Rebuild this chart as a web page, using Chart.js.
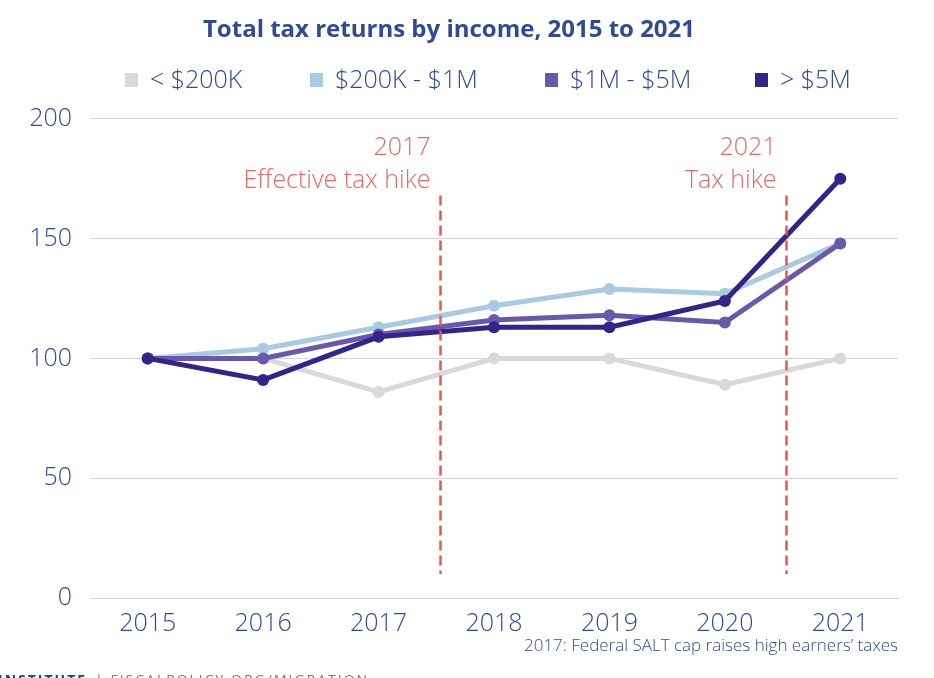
<!DOCTYPE html>
<html>
<head>
<meta charset="utf-8">
<script src="https://cdn.jsdelivr.net/npm/chart.js@4/dist/chart.umd.min.js"></script>
<style>
  html, body { margin: 0; padding: 0; background: #fff; }
  #wrap { width: 934px; height: 678px; position: relative; }
</style>
</head>
<body>
<div id="wrap"><canvas id="chart" width="934" height="678"></canvas></div>
<script>
const years = ['2015', '2016', '2017', '2018', '2019', '2020', '2021'];
const under200k = [100, 100, 86, 100, 100, 89, 100];
const from200kTo1m = [100, 104, 113, 122, 129, 127, 148];
const from1mTo5m = [100, 100, 110, 116, 118, 115, 148];
const over5m = [100, 91, 109, 113, 113, 124, 175];
const seriesNames = ['< $200K', '$200K - $1M', '$1M - $5M', '> $5M'];
const seriesColors = ['#d9d9d9', '#a9cbe2', '#6a58ad', '#33238a'];
const yTicks = [0, 50, 100, 150, 200];

const FONT = '"Open Sans", "Noto Sans", sans-serif';
const BLUE = '#2f4a98';
const RED = '#e85656';

// dashed markers between categories + their labels
const markers = [
  { at: 2.53, top: 168, bottom: 10, lines: ['2017', 'Effective tax hike'] },
  { at: 5.53, top: 168, bottom: 10, lines: ['2021', 'Tax hike'] }
];

// legend box positions (left edge of each swatch)
const legendX = [125, 310, 545, 755];
const legendY = 80;

const legendPlugin = {
  id: 'customLegend',
  afterDraw(chart) {
    const { ctx } = chart;
    ctx.save();
    ctx.font = '300 25px ' + FONT;
    ctx.textBaseline = 'middle';
    ctx.textAlign = 'left';
    seriesNames.forEach((name, i) => {
      ctx.fillStyle = seriesColors[i];
      ctx.fillRect(legendX[i], legendY - 7, 13, 14);
      ctx.fillStyle = BLUE;
      ctx.fillText(name, legendX[i] + 25, legendY + 1);
    });
    ctx.restore();
  }
};

const markerPlugin = {
  id: 'markers',
  afterDatasetsDraw(chart) {
    const { ctx, scales: { x, y } } = chart;
    ctx.save();
    markers.forEach(m => {
      const px = Math.round(x.getPixelForValue(m.at)) + 0.5;
      ctx.strokeStyle = RED;
      ctx.lineWidth = 2.5;
      ctx.setLineDash([10, 5]);
      ctx.beginPath();
      ctx.moveTo(px, y.getPixelForValue(m.top));
      ctx.lineTo(px, y.getPixelForValue(m.bottom));
      ctx.stroke();
      ctx.setLineDash([]);
      ctx.fillStyle = '#e96868';
      ctx.font = '300 25px ' + FONT;
      ctx.textAlign = 'right';
      ctx.textBaseline = 'middle';
      ctx.fillText(m.lines[0], px - 10, y.getPixelForValue(188));
      ctx.fillText(m.lines[1], px - 10, y.getPixelForValue(174));
    });
    ctx.restore();
  }
};

const footPlugin = {
  id: 'foot',
  afterDraw(chart) {
    const { ctx, chartArea } = chart;
    ctx.save();
    ctx.fillStyle = BLUE;
    ctx.font = '300 17px ' + FONT;
    ctx.textAlign = 'right';
    ctx.textBaseline = 'middle';
    ctx.fillText('2017: Federal SALT cap raises high earners\u2019 taxes', chartArea.right, 646);
    ctx.textAlign = 'left';
    ctx.letterSpacing = '2px';
    ctx.font = 'bold 14px ' + FONT;
    ctx.fillStyle = '#1f4a5c';
    ctx.fillText('INSTITUTE', -2, 681);
    const w = ctx.measureText('INSTITUTE').width;
    ctx.font = '14px ' + FONT;
    ctx.fillStyle = '#6b7a86';
    ctx.fillText('| FISCALPOLICY.ORG/MIGRATION', w + 6, 681);
    ctx.restore();
  }
};

const datasetValues = [under200k, from200kTo1m, from1mTo5m, over5m];

new Chart(document.getElementById('chart'), {
  type: 'line',
  data: {
    labels: years,
    datasets: datasetValues.map((vals, i) => ({
      label: seriesNames[i],
      data: vals,
      borderColor: seriesColors[i],
      backgroundColor: seriesColors[i],
      borderWidth: 5,
      pointRadius: 6,
      pointBorderWidth: 0,
      pointBackgroundColor: seriesColors[i],
      tension: 0,
      order: 4 - i
    }))
  },
  options: {
    responsive: false,
    animation: false,
    layout: { padding: { left: 0, right: 36, top: 0, bottom: 30 } },
    plugins: {
      title: {
        display: true,
        text: 'Total tax returns by income, 2015 to 2021',
        color: BLUE,
        font: { family: FONT, size: 24, weight: 'bold' },
        padding: { top: 16, bottom: 74 }
      },
      legend: { display: false },
      tooltip: { enabled: false }
    },
    scales: {
      x: {
        offset: true,
        grid: { display: false },
        border: { display: true, color: '#cfd3e6', width: 1 },
        ticks: { color: BLUE, font: { family: FONT, size: 25, weight: '300' }, padding: 3 },
        afterFit(scale) { scale.height = 50; }
      },
      y: {
        min: 0,
        max: 200,
        afterBuildTicks(scale) { scale.ticks = yTicks.map(v => ({ value: v })); },
        grid: { color: '#cfd3e6', drawTicks: false, lineWidth: 1 },
        border: { display: false },
        ticks: { color: BLUE, font: { family: FONT, size: 25, weight: '300' }, padding: 18 },
        afterFit(scale) { scale.width = 90; }
      }
    }
  },
  plugins: [markerPlugin, legendPlugin, footPlugin]
});
</script>
</body>
</html>
